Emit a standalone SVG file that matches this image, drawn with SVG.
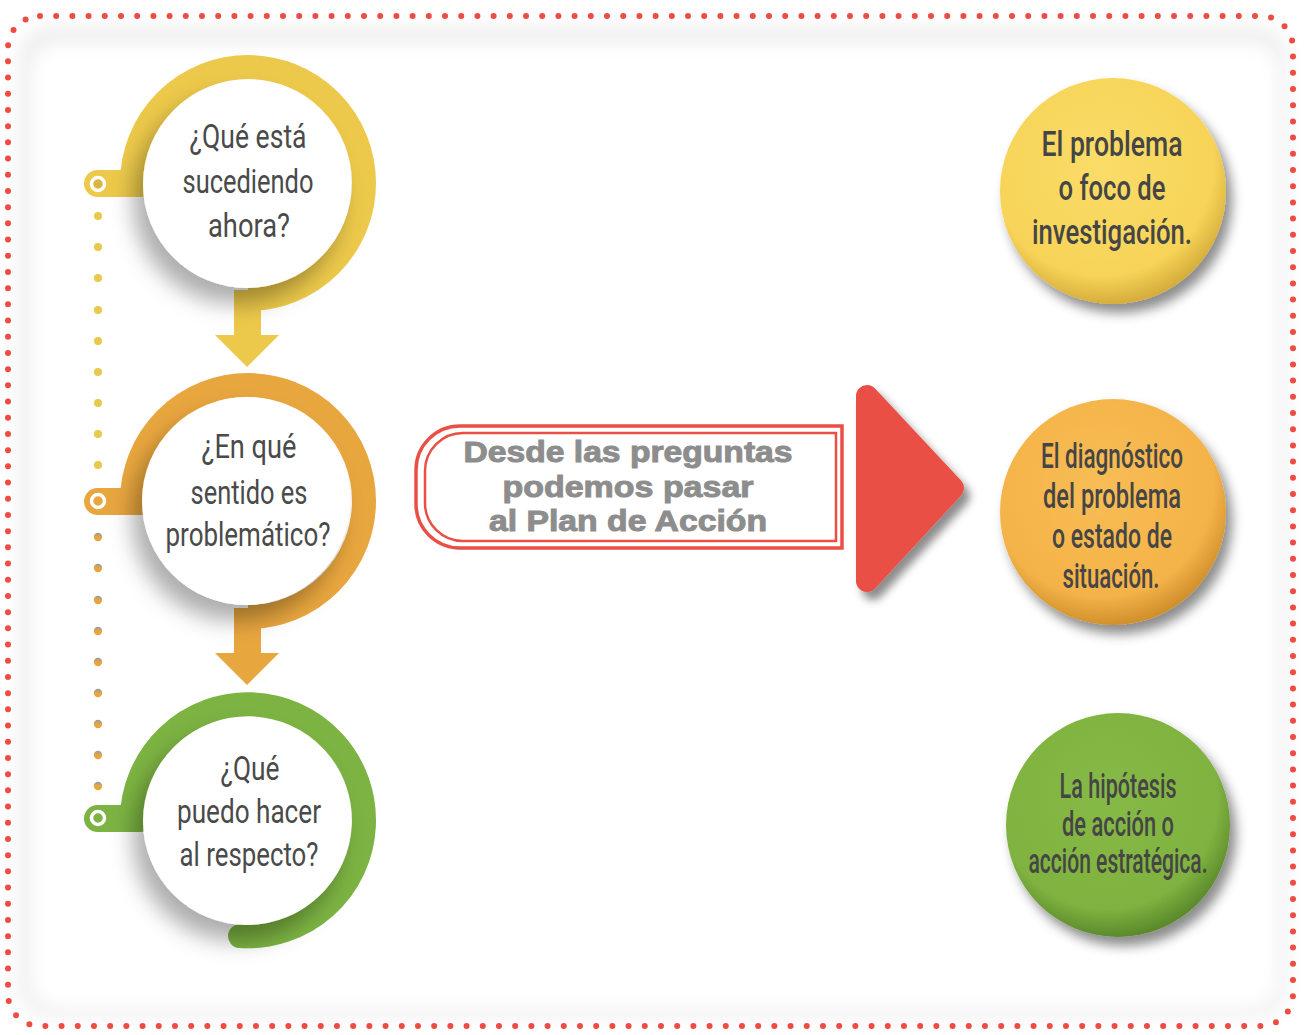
<svg xmlns="http://www.w3.org/2000/svg" width="1307" height="1035" viewBox="0 0 1307 1035">
<defs>
<style>
.q{font-family:Roboto,"Liberation Sans",sans-serif;font-size:34px;fill:#4a4a4a;text-anchor:middle}
.a{font-family:Roboto,"Liberation Sans",sans-serif;font-size:35px;font-weight:500;fill:#454545;text-anchor:middle}
.c{font-family:"Liberation Sans",Arial,sans-serif;font-size:30px;font-weight:bold;fill:#8d8d8d;stroke:#8d8d8d;stroke-width:1;text-anchor:middle}
.ring{fill:none;stroke-width:24}
.wc{fill:#fff;filter:url(#sh)}
.hole{stroke:#fff;stroke-width:3.5}
</style>
<filter id="sh" x="-40%" y="-40%" width="180%" height="180%">
<feDropShadow dx="-10" dy="16" stdDeviation="11" flood-color="#000" flood-opacity="0.32"/>
</filter>
<filter id="bs" x="-30%" y="-30%" width="160%" height="160%">
<feDropShadow dx="6" dy="9" stdDeviation="6" flood-color="#000" flood-opacity="0.45"/>
</filter>
<filter id="ts" x="-30%" y="-30%" width="160%" height="160%">
<feDropShadow dx="6" dy="8" stdDeviation="4" flood-color="#000" flood-opacity="0.45"/>
</filter>
<filter id="fr" x="-10%" y="-10%" width="120%" height="120%">
<feGaussianBlur stdDeviation="9"/>
</filter>
<radialGradient id="gy" cx="45%" cy="38%" r="62%">
<stop offset="0" stop-color="#fadc68"/><stop offset="0.8" stop-color="#f7d458"/><stop offset="1" stop-color="#d6ae3c"/>
</radialGradient>
<radialGradient id="go" cx="45%" cy="38%" r="62%">
<stop offset="0" stop-color="#f8bd55"/><stop offset="0.8" stop-color="#f4b349"/><stop offset="1" stop-color="#d0902c"/>
</radialGradient>
<radialGradient id="gg" cx="45%" cy="38%" r="62%">
<stop offset="0" stop-color="#86ba46"/><stop offset="0.8" stop-color="#7fb23f"/><stop offset="1" stop-color="#5c8a2c"/>
</radialGradient>
<linearGradient id="dotg" x1="0" y1="0" x2="0" y2="1">
<stop offset="0" stop-color="#8a9fb0"/><stop offset="0.5" stop-color="#e9a43c"/><stop offset="1" stop-color="#eaa53a"/>
</linearGradient>
</defs>

<!-- frame -->
<rect x="20" y="28" width="1266" height="988" rx="30" fill="#ececec" filter="url(#fr)"/>
<rect x="30" y="42" width="1250" height="968" rx="28" fill="#fff" filter="url(#fr)"/>
<rect x="8" y="16" width="1285" height="1010" rx="32" fill="none" stroke="#ee4b42" stroke-width="6" stroke-linecap="round" stroke-dasharray="0 16.2"/>

<!-- connectors (dotted timeline and arrows) -->
<g id="connectors">
<g fill="#e8c94c">
<circle cx="98" cy="216" r="4"/><circle cx="98" cy="247" r="4"/><circle cx="98" cy="278" r="4"/><circle cx="98" cy="310" r="4"/><circle cx="98" cy="341" r="4"/><circle cx="98" cy="372" r="4"/><circle cx="98" cy="403" r="4"/><circle cx="98" cy="434" r="4"/><circle cx="98" cy="465" r="4"/>
</g>
<g fill="url(#dotg)">
<circle cx="98" cy="537" r="4.2"/><circle cx="98" cy="568" r="4.2"/><circle cx="98" cy="600" r="4.2"/><circle cx="98" cy="631" r="4.2"/><circle cx="98" cy="662" r="4.2"/><circle cx="98" cy="693" r="4.2"/><circle cx="98" cy="724" r="4.2"/><circle cx="98" cy="755" r="4.2"/><circle cx="98" cy="786" r="4.2"/>
</g>
<g id="redArrow">
<polygon points="867,396 867,581 953,488" fill="#ea4f45" stroke="#ea4f45" stroke-width="22" stroke-linejoin="round" filter="url(#ts)"/>
</g>
</g>

<!-- left question nodes -->
<g id="q1">
<rect x="84" y="170" width="70" height="27" rx="13.5" fill="#ecc94a"/>
<path class="ring" stroke="#ecc94a" d="M132,183 A116,116 0 1 1 248,299"/>
<rect x="234" y="290" width="27" height="48" fill="#ecc94a"/>
<polygon points="215,335 279,335 247,367" fill="#ecc94a"/>
<circle class="hole" cx="98" cy="184" r="6.5" fill="#d9b440"/>
<circle class="wc" cx="247" cy="184" r="104"/>
<text class="q" x="248" y="148" textLength="117" lengthAdjust="spacingAndGlyphs">¿Qué está</text>
<text class="q" x="248" y="193" textLength="131" lengthAdjust="spacingAndGlyphs">sucediendo</text>
<text class="q" x="249" y="237" textLength="82" lengthAdjust="spacingAndGlyphs">ahora?</text>
</g>

<g id="q2">
<rect x="84" y="488" width="70" height="27" rx="13.5" fill="#e8a63e"/>
<path class="ring" stroke="#e8a63e" d="M132,501 A116,116 0 1 1 248,617"/>
<rect x="234" y="608" width="27" height="48" fill="#e8a63e"/>
<polygon points="215,653 279,653 247,685" fill="#e8a63e"/>
<circle class="hole" cx="98" cy="501" r="6.5" fill="#e8a63e"/>
<circle class="wc" cx="246" cy="501" r="104"/>
<text class="q" x="249" y="458" textLength="95" lengthAdjust="spacingAndGlyphs">¿En qué</text>
<text class="q" x="249" y="504" textLength="117" lengthAdjust="spacingAndGlyphs">sentido es</text>
<text class="q" x="248" y="546" textLength="165" lengthAdjust="spacingAndGlyphs">problemático?</text>
</g>

<g id="q3">
<rect x="84" y="805" width="70" height="27" rx="13.5" fill="#7cb342"/>
<path class="ring" stroke="#7cb342" stroke-linecap="round" d="M132,819 A116,116 0 1 1 240,936"/>
<circle class="hole" cx="98" cy="818" r="6.5" fill="#7cb342"/>
<circle class="wc" cx="247" cy="821" r="104"/>
<text class="q" x="250" y="780" textLength="59" lengthAdjust="spacingAndGlyphs">¿Qué</text>
<text class="q" x="249" y="823" textLength="144" lengthAdjust="spacingAndGlyphs">puedo hacer</text>
<text class="q" x="249" y="866" textLength="139" lengthAdjust="spacingAndGlyphs">al respecto?</text>
</g>

<!-- center label -->
<g id="label">
<path d="M842,426 L460,426 A44,44 0 0 0 416,470 L416,504 A44,44 0 0 0 460,548 L842,548 Z" fill="#fff" stroke="#ea4f45" stroke-width="3.5"/>
<path d="M836,433 L463,433 A38,38 0 0 0 425,471 L425,503 A38,38 0 0 0 463,541 L836,541 Z" fill="none" stroke="#ea4f45" stroke-width="2.5"/>
<text class="c" x="628" y="462" textLength="329" lengthAdjust="spacingAndGlyphs">Desde las preguntas</text>
<text class="c" x="628" y="497" textLength="251" lengthAdjust="spacingAndGlyphs">podemos pasar</text>
<text class="c" x="628" y="531" textLength="278" lengthAdjust="spacingAndGlyphs">al Plan de Acción</text>
</g>

<!-- right answer nodes -->
<g id="a1">
<circle cx="1113" cy="191" r="113" fill="url(#gy)" filter="url(#bs)"/>
<text class="a" x="1112" y="156" textLength="141" lengthAdjust="spacingAndGlyphs">El problema</text>
<text class="a" x="1112" y="200" textLength="107" lengthAdjust="spacingAndGlyphs">o foco de</text>
<text class="a" x="1112" y="244" textLength="160" lengthAdjust="spacingAndGlyphs">investigación.</text>
</g>

<g id="a2">
<circle cx="1113" cy="512" r="113" fill="url(#go)" filter="url(#bs)"/>
<text class="a" x="1112" y="468" textLength="142" lengthAdjust="spacingAndGlyphs">El diagnóstico</text>
<text class="a" x="1112" y="508" textLength="138" lengthAdjust="spacingAndGlyphs">del problema</text>
<text class="a" x="1112" y="548" textLength="120" lengthAdjust="spacingAndGlyphs">o estado de</text>
<text class="a" x="1111" y="588" textLength="97" lengthAdjust="spacingAndGlyphs">situación.</text>
</g>

<g id="a3">
<circle cx="1118" cy="825" r="112" fill="url(#gg)" filter="url(#bs)"/>
<text class="a" x="1118" y="798" textLength="117" lengthAdjust="spacingAndGlyphs">La hipótesis</text>
<text class="a" x="1118" y="836" textLength="112" lengthAdjust="spacingAndGlyphs">de acción o</text>
<text class="a" x="1118" y="873" textLength="179" lengthAdjust="spacingAndGlyphs">acción estratégica.</text>
</g>
</svg>
